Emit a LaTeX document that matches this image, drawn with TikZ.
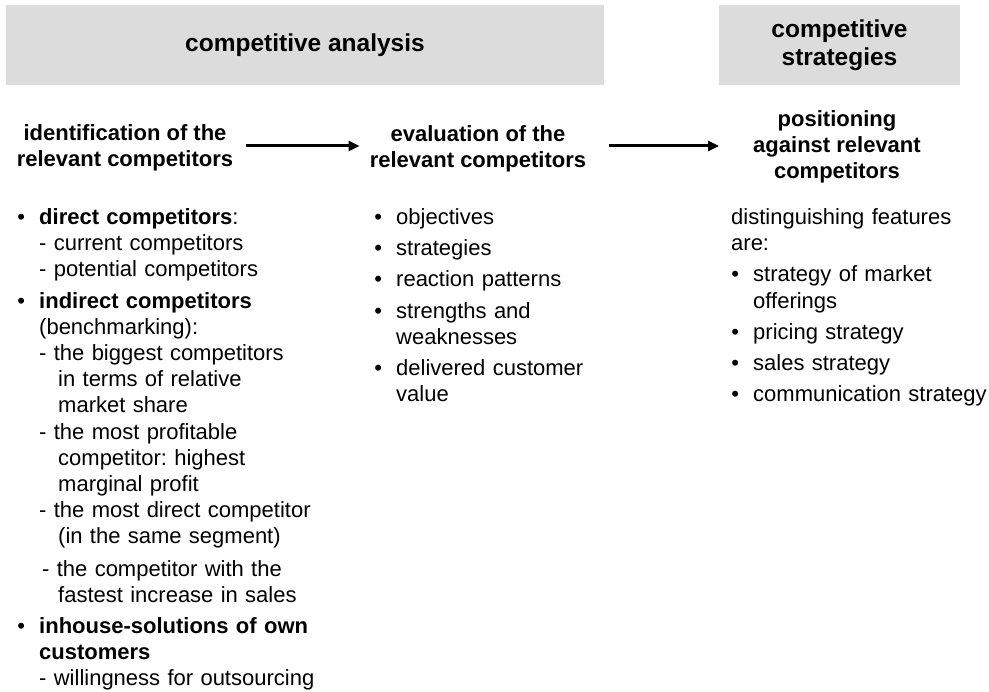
\documentclass[tikz,border=0pt]{standalone}
\usepackage{fontspec}
\setmainfont{Liberation Sans}
\usetikzlibrary{arrows.meta}
\definecolor{boxgray}{RGB}{220,220,220}
\newcommand{\bul}{\makebox[36pt][c]{•}}
\frenchspacing
\tikzset{
  titlebox/.style={fill=boxgray, inner sep=0pt, align=center,
    font=\bfseries\fontsize{24.5}{28}\selectfont},
  headtext/.style={align=center, inner sep=0pt,
    font=\bfseries\fontsize{22}{26}\selectfont},
  bodytext/.style={anchor=base west, align=left, inner sep=0pt,
    font=\frenchspacing\fontsize{22}{26.2}\selectfont},
  flowarrow/.style={line width=3pt, -{Triangle[length=11pt,width=10pt]}}
}
\begin{document}
\begin{tikzpicture}[x=1pt,y=-1pt]
\useasboundingbox (0,0) rectangle (989,692);
% title bars
\node[titlebox, minimum width=598pt, minimum height=80pt] (ca) at (305,45) {competitive analysis};
\node[titlebox, minimum width=241pt, minimum height=80pt] (cs) at (839.5,45) {competitive\\strategies};
% headers
\node[headtext] (h1) at (125,148) {identification of the\\relevant competitors};
\node[headtext] (h2) at (478,149) {evaluation of the\\relevant competitors};
\node[headtext] (h3) at (837,147) {positioning\\against relevant\\competitors};
\coordinate (ay) at (0,146);
\path (h1.east) ++(13,0) coordinate (a1s);
\path (h2.west) ++(-10,0) coordinate (a1e);
\path (h2.east) ++(23,0) coordinate (a2s);
\path (h3.west) ++(-34,0) coordinate (a2e);
\draw[flowarrow] (a1s |- ay) -- (a1e |- ay);
\draw[flowarrow] (a2s |- ay) -- (a2e |- ay);
% column 1
\node[bodytext, text width=330pt] (c1) at (3,224.6) {%
\bul\textbf{direct competitors}:\\
\hspace*{36pt}- current competitors\\
\hspace*{36pt}- potential competitors\\[5pt]
\bul\textbf{indirect competitors}\\
\hspace*{36pt}(benchmarking):\\
\hspace*{36pt}- the biggest competitors\\
\hspace*{55pt}in terms of relative\\
\hspace*{55pt}market share\\
\hspace*{36pt}- the most profitable\\
\hspace*{55pt}competitor: highest\\
\hspace*{55pt}marginal profit\\
\hspace*{36pt}- the most direct competitor\\
\hspace*{55pt}(in the same segment)\\[6pt]
\hspace*{39pt}- the competitor with the\\
\hspace*{55pt}fastest increase in sales\\[5pt]
\bul\textbf{inhouse-solutions of own}\\
\hspace*{36pt}\textbf{customers}\\
\hspace*{36pt}- willingness for outsourcing};
% column 2
\node[bodytext, text width=260pt] (c2) at (360,224.6) {%
\bul objectives\\[5pt]
\bul strategies\\[5pt]
\bul reaction patterns\\[5pt]
\bul strengths and\\
\hspace*{36pt}weaknesses\\[5pt]
\bul delivered customer\\
\hspace*{36pt}value};
% column 3
\node[bodytext, text width=280pt] (c3) at (717,224.6) {%
\hspace*{14pt}distinguishing features\\
\hspace*{14pt}are:\\[5pt]
\bul strategy of market\\
\hspace*{36pt}offerings\\[5pt]
\bul pricing strategy\\[5pt]
\bul sales strategy\\[5pt]
\bul communication strategy};
\end{tikzpicture}
\end{document}
